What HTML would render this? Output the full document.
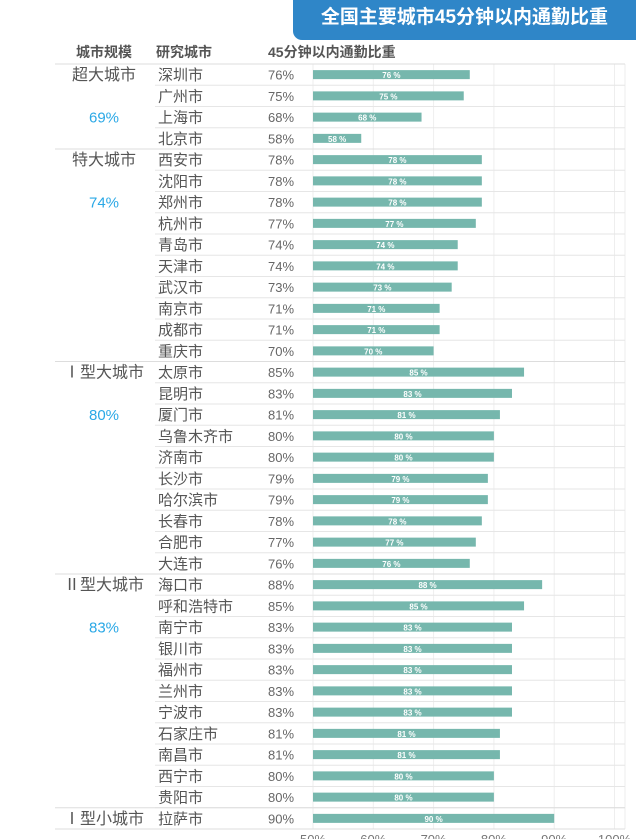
<!DOCTYPE html>
<html><head><meta charset="utf-8"><style>
body{margin:0;width:636px;height:839px;overflow:hidden;background:#fff;font-family:"Liberation Sans","Noto Sans CJK SC",sans-serif;}
#t{position:absolute;left:293px;top:0;width:343px;height:40px;background:#2f86c8;border-radius:0 0 0 9px;color:#fff;font-weight:bold;font-size:19px;line-height:36px;text-align:center;}
</style></head><body>
<div id="t">全国主要城市45分钟以内通勤比重</div>
<svg id="c" width="636" height="839" style="position:absolute;left:0;top:0"></svg>
<script>
const cities=["深圳市","广州市","上海市","北京市","西安市","沈阳市","郑州市","杭州市","青岛市","天津市","武汉市","南京市","成都市","重庆市","太原市","昆明市","厦门市","乌鲁木齐市","济南市","长沙市","哈尔滨市","长春市","合肥市","大连市","海口市","呼和浩特市","南宁市","银川市","福州市","兰州市","宁波市","石家庄市","南昌市","西宁市","贵阳市","拉萨市"];
const values=[76,75,68,58,78,78,78,77,74,74,73,71,71,70,85,83,81,80,80,79,79,78,77,76,88,85,83,83,83,83,83,81,81,80,80,90];
const groups=["超大城市","特大城市","Ⅰ型大城市","Ⅱ型大城市","Ⅰ型小城市"];
const groupSizes=[4,10,10,11,1];
const groupValues=["69%","74%","80%","83%",""];
const ticks=[50,60,70,80,90,100];
const svg=document.getElementById('c');const NS="http://www.w3.org/2000/svg";
function mk(tag,attrs,txt){const e=document.createElementNS(NS,tag);for(const k in attrs)e.setAttribute(k,attrs[k]);if(txt!==undefined)e.textContent=txt;svg.appendChild(e);return e;}
const x=v=>313+(v-50)*6.03;
const y0=64,pitch=21.25;
const rowY=i=>y0+i*pitch;
let h;
h=mk('text',{x:104,y:57,'font-size':14,fill:'#555','text-anchor':'middle','font-weight':'bold'},"城市规模");
h=mk('text',{x:156,y:57,'font-size':14,fill:'#555','font-weight':'bold'},"研究城市");
h=mk('text',{x:268,y:57,'font-size':14,fill:'#555','font-weight':'bold'},"45分钟以内通勤比重");
ticks.forEach(t=>{const l=mk('line',{x1:x(t),x2:x(t),y1:y0,y2:rowY(cities.length),stroke:'#eee'});
const tl=mk('text',{x:x(t),y:844,'font-size':13,fill:'#777','text-anchor':'middle'},t+"%");});
const rb=mk('line',{x1:625,x2:625,y1:y0,y2:rowY(cities.length),stroke:'#eee'});
cities.forEach((c,i)=>{const yt=rowY(i),cy=yt+pitch/2;
const sep=mk('line',{x1:155,x2:625,y1:yt+pitch,y2:yt+pitch,stroke:'#e6e6e6'});
const t=mk('text',{x:158,y:cy+5.5,'font-size':15,fill:'#555'},c);
const p=mk('text',{x:268,y:cy+5,'font-size':13,fill:'#666'},values[i]+"%");
const b=mk('rect',{x:x(50),y:cy-4.5,width:x(values[i])-x(50),height:9,fill:'#76b7ad'});
const bl=mk('text',{x:(x(50)+x(values[i]))/2,y:cy+3.5,'font-size':8,fill:'#fff','font-weight':'bold','text-anchor':'middle'},values[i]+" %");});
let start=0;
groups.forEach((g,gi)=>{const yt=rowY(start);
const gl=mk('line',{x1:55,x2:625,y1:yt,y2:yt,stroke:'#ddd'});
const gt=mk('text',{x:104,y:yt+pitch/2+5.5,'font-size':16,fill:'#555','text-anchor':'middle'},g);
if(groupValues[gi]){const gv=mk('text',{x:104,y:yt+2*pitch+pitch/2+5.5,'font-size':15,fill:'#2aa8e6','text-anchor':'middle'},groupValues[gi]);}
start+=groupSizes[gi];});
const bt=mk('line',{x1:55,x2:625,y1:rowY(start),y2:rowY(start),stroke:'#ddd'});
</script>
</body></html>
